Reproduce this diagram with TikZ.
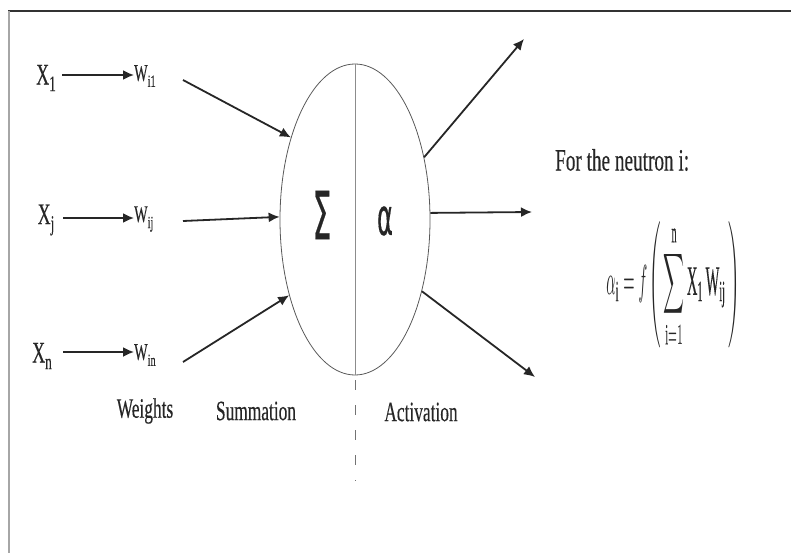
\documentclass[tikz,border=0pt]{standalone}
\usepackage{fontspec}
\setmainfont[FakeBold=0.4]{Liberation Serif}
\newfontfamily\sansf[FakeBold=0.6]{DejaVu Sans}
\usetikzlibrary{shapes.geometric,arrows.meta}
\tikzset{
  lbl/.style={font=\fontsize{28}{28}\selectfont, xscale=0.62, inner sep=0pt, text=black!85},
  xl/.style={font=\fontsize{30}{30}\selectfont, xscale=0.6, inner sep=0pt, text=black!85},
  wl/.style={font=\fontsize{24}{24}\selectfont, xscale=0.6, inner sep=0pt, text=black!85},
  arr/.style={line width=1.8pt, black!85, -{Latex[length=11pt,width=10pt]}},
  thinline/.style={line width=0.8pt, black!65},
}
\newcommand\sbx[1]{\raisebox{-0.22em}{\fontsize{22}{22}\selectfont #1}}
\newcommand\sbw[1]{\raisebox{-0.25em}{\fontsize{17}{17}\selectfont #1}}
\begin{document}
\begin{tikzpicture}[x=1pt,y=-1pt]
\useasboundingbox (0,0) rectangle (791,553);
% frame
\draw[line width=2pt, black!80] (8,11) -- (791,11);
\draw[line width=2pt, black!35] (9,11) -- (9,553);

% neuron
\node[ellipse, draw, thinline, minimum width=150pt, minimum height=311pt, inner sep=0pt] (cell) at (355,219.5) {};
\draw[thinline, black!45] (cell.north) -- (cell.south);
\coordinate (dend) at (355,481);
\draw[thinline, black!55, dash pattern=on 10pt off 15pt] (cell.south) ++(0,5) -- (dend);
\node[font=\sansf\fontsize{66}{66}\selectfont, xscale=0.45, inner sep=0pt, text=black!85] (sig) at (322,215) {Σ};
\node[font=\sansf\fontsize{51}{51}\selectfont, xscale=0.47, inner sep=0pt, text=black!85] (alp) at (385,221) {α};

% inputs
\node[xl] (x1) at (46,78) {X\sbx{1}};
\node[xl] (xj) at (46,220) {X\sbx{j}};
\node[xl] (xn) at (42,356) {X\sbx{n}};
\node[wl, anchor=west] (w1) at (134,76) {W\sbw{i1}};
\node[wl, anchor=west] (wj) at (134,219) {W\sbw{ij}};
\node[wl, anchor=west] (wn) at (134,355) {W\sbw{in}};
\draw[arr] (62,75) -- (w1.west |- 62,75);
\draw[arr] (63,218) -- (wj.west |- 63,218);
\draw[arr] (63,352) -- (wn.west |- 63,352);

\coordinate (i1) at (183,80);
\coordinate (i2) at (183,221);
\coordinate (i3) at (183,362);
\draw[arr] (i1) -- (cell.128);
\draw[arr] (i2) -- (cell.178);
\draw[arr] (i3) -- (cell.229);

% outputs
\coordinate (o1) at (524,39);
\coordinate (o2) at (532,212);
\coordinate (o3) at (535,377);
\draw[arr] (cell.42) -- (o1);
\draw[arr] (cell.5) -- (o2);
\draw[arr] (cell.-47) -- (o3);

% captions
\node[lbl] (wt) at (145,411) {Weights};
\node[lbl] (sm) at (256,411) {Summation};
\node[lbl] (ac) at (421,412) {Activation};

% formula
\node[lbl, font=\fontsize{31}{31}\selectfont, anchor=west] (fn) at (555,160) {For the neutron i:};
\node[inner sep=0pt, text=black!85] (eq) at (673,285)
  {\scalebox{1.45}[4.2]{$\displaystyle \alpha_{\mathrm{i}} = f\left(\,\sum_{\mathrm{i}=1}^{\mathrm{n}} \mathrm{X}_{\mathrm{1}}\, \mathrm{W}_{\mathrm{ij}}\,\right)$}};
\end{tikzpicture}
\end{document}
